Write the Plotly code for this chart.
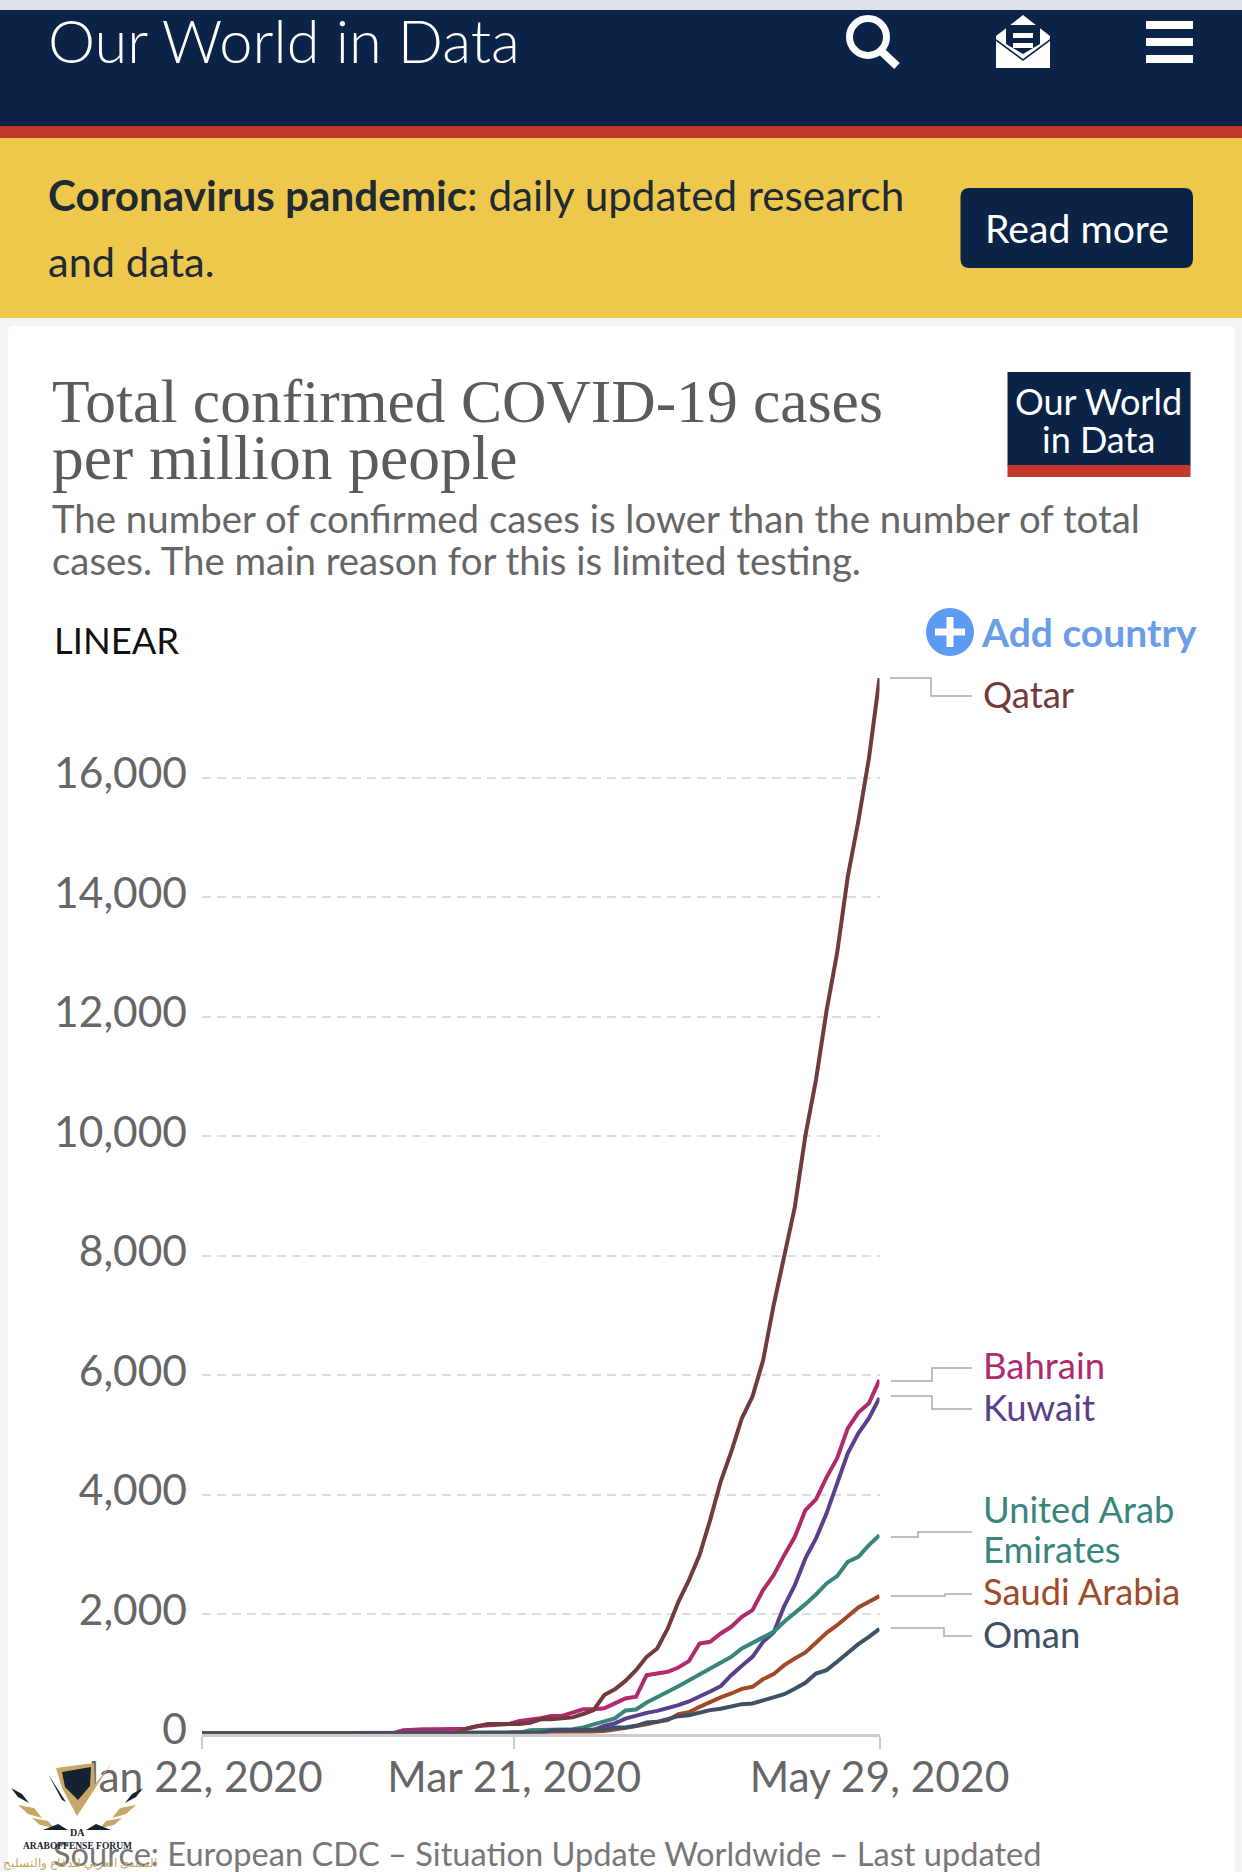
import pandas as pd
import plotly.graph_objects as go

W, H = 1242, 1872

start_date = "2020-01-22"
day_offsets = [0] + list(range(36, 130, 2))

bahrain = [0, 0, 56, 70, 70, 70, 70, 70, 81, 125, 137, 159, 159, 209, 226, 254, 293, 293, 349, 404, 404, 421, 505, 586,
           614, 976, 1004, 1032, 1105, 1211, 1507, 1535, 1674, 1786, 1953, 2065, 2399, 2651, 2985, 3292, 3739, 3920, 4287, 4606, 5108, 5371, 5527, 5918]
qatar = [0, 0, 3, 3, 3, 3, 3, 10, 81, 125, 159, 159, 159, 159, 181, 237, 237, 248, 270, 326, 393, 644, 739, 880,
         1060, 1283, 1423, 1758, 2204, 2567, 2985, 3571, 4216, 4718, 5276, 5639, 6241, 7168, 8026, 8810, 10008, 10940, 12098, 13068, 14337, 15271, 16319, 17662]
kuwait = [0, 0, 3, 3, 3, 3, 5, 5, 5, 8, 10, 12, 15, 20, 22, 25, 30, 35, 40, 50, 60, 125, 170, 250,
          301, 346, 379, 418, 474, 536, 614, 703, 792, 976, 1133, 1283, 1535, 1691, 2132, 2483, 2930, 3264, 3685, 4187, 4689, 5025, 5276, 5615]
uae = [0, 1, 1, 2, 2, 2, 3, 3, 3, 4, 4, 8, 12, 15, 55, 60, 60, 65, 70, 103, 159, 209, 254, 385,
       402, 519, 603, 698, 792, 893, 993, 1088, 1183, 1283, 1423, 1518, 1618, 1702, 1869, 2009, 2165, 2327, 2511, 2634, 2874, 2958, 3153, 3320]
saudi = [0, 0, 0, 0, 0, 0, 0, 1, 1, 1, 2, 3, 4, 5, 8, 10, 12, 14, 15, 18, 25, 40, 65, 90,
         125, 156, 195, 223, 324, 357, 446, 530, 603, 670, 748, 781, 910, 993, 1144, 1255, 1356, 1518, 1685, 1813, 1953, 2109, 2204, 2299]
oman = [0, 0, 0, 0, 0, 0, 0, 0, 0, 0, 0, 0, 1, 1, 2, 10, 55, 58, 58, 60, 60, 65, 100, 100,
        128, 184, 195, 234, 290, 307, 352, 391, 413, 457, 491, 502, 558, 602, 658, 748, 848, 1004, 1060, 1200, 1350, 1495, 1618, 1752]

series_names = ["Bahrain", "Qatar", "Kuwait", "United Arab Emirates", "Saudi Arabia", "Oman"]
series_values = [bahrain, qatar, kuwait, uae, saudi, oman]
series_colors = ["#B02A6E", "#733A3C", "#5A3F8C", "#38857C", "#A04A28", "#3F4F66"]

y_ticks = [0, 2000, 4000, 6000, 8000, 10000, 12000, 14000, 16000]
y_tick_labels = ["0", "2,000", "4,000", "6,000", "8,000", "10,000", "12,000", "14,000", "16,000"]
x_ticks = ["2020-01-22", "2020-03-21", "2020-05-29"]
x_tick_labels = ["Jan 22, 2020", "Mar 21, 2020", "May 29, 2020"]

dates = [pd.Timestamp(start_date) + pd.Timedelta(days=d) for d in day_offsets]


def px(x):
    return x / W


def py(y):
    return 1 - y / H


def rect(x0, y0, x1, y1, color, layer="below"):
    return dict(type="rect", xref="paper", yref="paper", x0=px(x0), x1=px(x1), y0=py(y0), y1=py(y1),
                fillcolor=color, line_width=0, layer=layer)


def path(points, color=None, line=None, width=0, layer="above", closed=True):
    d = "M " + " L ".join(f"{px(a):.5f},{py(b):.5f}" for a, b in points) + (" Z" if closed else "")
    return dict(type="path", xref="paper", yref="paper", path=d, fillcolor=color if closed else "rgba(0,0,0,0)",
                line=dict(color=line or "rgba(0,0,0,0)", width=width), layer=layer)


def circle(cx, cy, r, color, line=None, width=0, layer="above"):
    return dict(type="circle", xref="paper", yref="paper", x0=px(cx - r), x1=px(cx + r), y0=py(cy + r), y1=py(cy - r),
                fillcolor=color, line=dict(color=line or "rgba(0,0,0,0)", width=width), layer=layer)


def rounded(x0, y0, x1, y1, r, color, layer="below"):
    k = f"{px(x0 + r):.5f},{py(y0):.5f}"
    d = (f"M {k} L {px(x1 - r):.5f},{py(y0):.5f} Q {px(x1):.5f},{py(y0):.5f} {px(x1):.5f},{py(y0 + r):.5f} "
         f"L {px(x1):.5f},{py(y1 - r):.5f} Q {px(x1):.5f},{py(y1):.5f} {px(x1 - r):.5f},{py(y1):.5f} "
         f"L {px(x0 + r):.5f},{py(y1):.5f} Q {px(x0):.5f},{py(y1):.5f} {px(x0):.5f},{py(y1 - r):.5f} "
         f"L {px(x0):.5f},{py(y0 + r):.5f} Q {px(x0):.5f},{py(y0):.5f} {k} Z")
    return dict(type="path", xref="paper", yref="paper", path=d, fillcolor=color, line_width=0, layer=layer)


def label(x, y, text, size, color, family="Lato", anchor="left", **font_kw):
    return dict(xref="paper", yref="paper", x=px(x), y=py(y), text=text, showarrow=False, xanchor=anchor,
                yanchor="middle", align=anchor, borderpad=0,
                font=dict(family=family, size=size, color=color, **font_kw))


NAVY = "#0A2347"
RED = "#C0392B"
shapes = [
    rect(0, 0, W, 10, "#DDE1E8"),
    rect(0, 10, W, 127, NAVY),
    rect(0, 126, W, 138, RED),
    rect(0, 138, W, 318, "#EEC84C"),
    rounded(960.5, 188, 1193, 268, 9, NAVY),
    rounded(8, 326, 1235, 1890, 6, "#FFFFFF"),
    rect(1007.5, 372, 1190.5, 466, NAVY),
    rect(1007.5, 465, 1190.5, 477, RED),
    # search icon
    circle(868, 37, 18.5, "rgba(0,0,0,0)", "#FFFFFF", 7, "below"),
    path([(880, 50), (897, 66)], line="#FFFFFF", width=8, closed=False, layer="below"),
    # mail icon
    path([(996, 36), (1023, 15), (1050, 36), (1050, 68), (996, 68)], "#FFFFFF", layer="below"),
    path([(1006, 25), (1040, 25), (1040, 44), (1023, 54), (1006, 44)], NAVY, layer="below"),
    path([(996, 39), (1023, 59), (1050, 39), (1050, 41), (1023, 61), (996, 41)], NAVY, layer="below"),
    rect(1013, 33, 1033, 38, "#FFFFFF"),
    rect(1013, 43, 1033, 48, "#FFFFFF"),
    # menu icon
    rect(1146, 21, 1193, 29, "#FFFFFF"),
    rect(1146, 38, 1193, 46, "#FFFFFF"),
    rect(1146, 55, 1193, 63, "#FFFFFF"),
    # add country icon
    circle(950, 632, 24, "#5B9BF3", layer="below"),
    rect(935, 628.5, 965, 635.5, "#FFFFFF"),
    rect(946.5, 617, 953.5, 647, "#FFFFFF"),
]

connectors = [
    [(890, 678), (931, 678), (931, 696), (972, 696)],
    [(891, 1381), (932, 1381), (932, 1368), (972, 1368)],
    [(891, 1396), (932, 1396), (932, 1409), (972, 1409)],
    [(891, 1537), (918, 1537), (918, 1532), (972, 1532)],
    [(891, 1596), (945, 1596), (945, 1594), (972, 1594)],
    [(891, 1628), (944, 1628), (944, 1636), (972, 1636)],
]
for c in connectors:
    shapes.append(path(c, line="#AAAAAA", width=1.5, closed=False, layer="below"))

# watermark logo (forum stamp)
GOLD = "#C6A765"
INK = "#14232F"
wm = [
    ([(56, 18), (94, 13), (95, 36), (77, 66), (62, 38)], GOLD),
    ([(62, 22), (91, 17), (90, 36), (78, 50), (65, 37)], INK),
    ([(77, 66), (111, 14), (92, 38)], GOLD),
    ([(48, 24), (66, 52), (62, 50)], INK),
    ([(11, 38), (22, 44), (29, 53), (18, 47)], INK),
    ([(143, 38), (132, 44), (125, 53), (136, 47)], INK),
    ([(18, 55), (34, 58), (42, 68), (28, 64)], GOLD),
    ([(136, 55), (120, 58), (112, 68), (126, 64)], GOLD),
    ([(32, 68), (48, 71), (54, 78), (40, 75)], GOLD),
    ([(122, 68), (106, 71), (100, 78), (114, 75)], GOLD),
    ([(43, 80), (58, 74), (68, 80), (54, 80)], INK),
    ([(111, 80), (96, 74), (86, 80), (100, 80)], INK),
]
for pts, col in wm:
    shapes.append(path([(a, 1750 + b) for a, b in pts], col))

annotations = [
    label(47, 40, "Our World in Data", 59.5, "#FFFFFF", family="Lato Light, Lato"),
    label(47, 195, "<b>Coronavirus pandemic</b>: daily updated research", 42.2, "#1F2A33"),
    label(47, 261, "and data.", 41.5, "#1F2A33"),
    label(1077, 227, "Read more", 39.2, "#FFFFFF", anchor="center"),
    label(51, 401, "Total confirmed COVID-19 cases", 61.5, "#5B5B5B", family="Liberation Serif"),
    label(51, 457, "per million people", 63.5, "#5B5B5B", family="Liberation Serif"),
    label(1098, 401, "Our World", 36, "#FFFFFF", anchor="center"),
    label(1098, 439, "in Data", 36, "#FFFFFF", anchor="center"),
    label(51, 518, "The number of confirmed cases is lower than the number of total", 38.4, "#666666"),
    label(51, 560, "cases. The main reason for this is limited testing.", 38.4, "#666666"),
    label(53, 640, "LINEAR", 36.4, "#111111"),
    label(980, 632, "<b>Add country</b>", 39, "#6A9DE8"),
    label(982, 694, "Qatar", 36.5, series_colors[1]),
    label(982, 1365, "Bahrain", 36.5, series_colors[0]),
    label(982, 1407, "Kuwait", 36.5, series_colors[2]),
    label(982, 1509, "United Arab", 36.3, series_colors[3]),
    label(982, 1549, "Emirates", 36.3, series_colors[3]),
    label(982, 1591, "Saudi Arabia", 36.3, series_colors[4]),
    label(982, 1634, "Oman", 36.5, series_colors[5]),
    label(52, 1853, "Source: European CDC – Situation Update Worldwide – Last updated", 32.6, "#777777"),
    label(77, 1832, "<b>DA</b>", 10, INK, family="Liberation Serif", anchor="center"),
    label(77, 1846, "<b>ARABOFFENSE FORUM</b>", 9.5, INK, family="Liberation Serif", anchor="center"),
    label(80, 1862, "المنتدى العربي للدفاع والتسليح", 11.5, GOLD, family="Noto Sans", anchor="center"),
]

fig = go.Figure()
for name, vals, col in zip(series_names, series_values, series_colors):
    fig.add_trace(go.Scatter(x=dates, y=vals, mode="lines", name=name, cliponaxis=False,
                             line=dict(color=col, width=4, shape="linear")))

Y0, PER_UNIT = 1733.5, 119.5 / 2000
Y_MAX = 18000
fig.update_layout(
    width=W, height=H, autosize=False, showlegend=False,
    margin=dict(l=0, r=0, t=0, b=0, pad=0),
    paper_bgcolor="#F4F4F4", plot_bgcolor="rgba(0,0,0,0)",
    xaxis=dict(domain=[px(202), px(879.5)], type="date", range=["2020-01-22", "2020-05-29"],
               tickmode="array", tickvals=x_ticks, ticktext=x_tick_labels,
               showgrid=False, zeroline=False, showline=True, linecolor="#CCCCCC", linewidth=3,
               ticks="outside", ticklen=12, tickwidth=2, tickcolor="#CCCCCC",
               ticklabelstandoff=-8,
               tickfont=dict(family="Lato", size=42.5, color="#666666"), tickangle=0, automargin=False),
    yaxis=dict(domain=[py(Y0), py(Y0 - Y_MAX * PER_UNIT)], range=[0, Y_MAX],
               tickmode="array", tickvals=y_ticks, ticktext=y_tick_labels,
               showgrid=True, gridcolor="#DDDDDD", gridwidth=1.8, griddash="9px,6px",
               zeroline=False, showline=False, ticks="",
               ticklabelstandoff=14, ticklabelshift=-4,
               tickfont=dict(family="Lato", size=42.5, color="#666666"), automargin=False),
    shapes=shapes, annotations=annotations,
)

fig.write_html("out.html", config=dict(displayModeBar=False),
               post_script="document.body.style.margin='0';document.body.style.background='#F4F4F4';")
